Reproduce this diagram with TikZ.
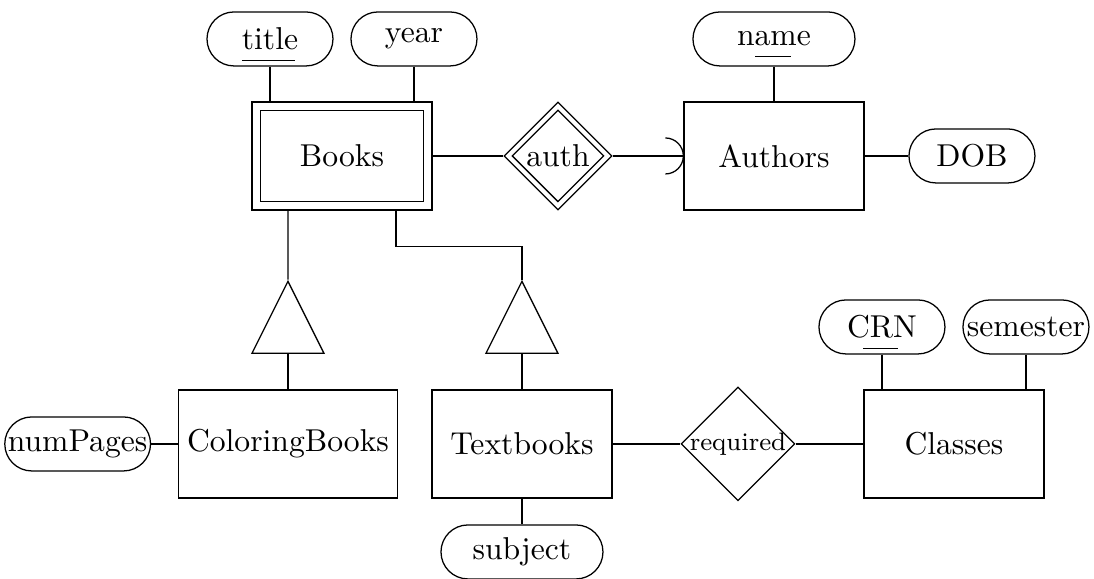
\documentclass[tikz,border=0pt]{standalone}
\usepackage{tikz}
\usetikzlibrary{positioning,shapes.geometric}
\newcommand{\keyul}[3]{\makebox[0pt][l]{\kern#1\raisebox{-3.5pt}[0pt][0pt]{\rule{#2}{0.4pt}}}#3}

\begin{document}
\begin{tikzpicture}[x=1cm,y=1cm,
  entity/.style={draw, rectangle, minimum width=2cm, minimum height=1.2cm, inner xsep=2.6pt},
  attr/.style={draw, rectangle, rounded corners=0.3cm, minimum width=1.4cm, minimum height=0.6cm, inner sep=1pt},
  rel/.style={draw, diamond, minimum size=1.2cm, inner sep=0pt},
  isa/.style={draw, isosceles triangle, shape border rotate=90, isosceles triangle stretches, minimum width=0.8cm, minimum height=0.8cm, inner sep=0pt}]
\useasboundingbox (-3.8,-4.7) rectangle (8.356,1.733);
% top row
\node[entity] (books) at (0,0) {Books};
\draw ([shift={(0.1,0.1)}]books.south west) rectangle ([shift={(-0.1,-0.1)}]books.north east);
\node[rel] (auth) at (2.4,0) {auth};
\node[draw, diamond, minimum size=1.02cm, inner sep=0pt] (authin) at (auth) {};
\node[entity] (authors) at (4.8,0) {Authors};
\node[attr] (dob) at (7.0,0) {DOB};
\node[attr] (title) at (-0.8,1.3) {\keyul{0pt}{16.8pt}{title}};
\node[attr] (year) at (0.8,1.3) {year};
\node[attr, minimum width=1.8cm] (name) at (4.8,1.3) {\keyul{5.7pt}{11.4pt}{name}};
% isa
\node[isa, anchor=lower side] (isa1) at (-0.6,-2.2) {};
\node[isa, anchor=lower side] (isa2) at (2.0,-2.2) {};
% bottom row
\node[entity] (cb) at (-0.6,-3.2) {ColoringBooks};
\node[attr, left=0.3cm of cb] (np) {numPages};
\node[entity] (tb) at (2.0,-3.2) {Textbooks};
\node[attr, minimum width=1.8cm] (subj) at (2.0,-4.4) {subject};
\node[rel, inner sep=-0.4pt] (req) at (4.4,-3.2) {\footnotesize required};
\node[entity] (classes) at (6.8,-3.2) {Classes};
\node[attr] (crn) at (6.0,-1.9) {\keyul{5.1pt}{11.1pt}{CRN}};
\node[attr] (sem) at (7.6,-1.9) {semester};

\draw (title.south) -- (title.south |- books.north);
\draw (year.south) -- (year.south |- books.north);
\draw (books) -- (auth);
\draw (auth) -- (authors);
\draw ([shift={(-0.2,0.2)}]authors.west) arc[start angle=90, end angle=-90, radius=0.2cm];
\draw (name) -- (authors);
\draw (authors) -- (dob);
\draw ([xshift=-0.6cm]books.south) -- (isa1.apex);
\draw ([xshift=0.6cm]books.south) -- ++(0,-0.4) -| (isa2.apex);
\draw (isa1.lower side) -- (cb.north);
\draw (isa2.lower side) -- (tb.north);
\draw (np) -- (cb);
\draw (tb) -- (subj);
\draw (tb) -- (req);
\draw (req) -- (classes);
\draw (crn.south) -- (crn.south |- classes.north);
\draw (sem.south) -- (sem.south |- classes.north);
\end{tikzpicture}
\end{document}
